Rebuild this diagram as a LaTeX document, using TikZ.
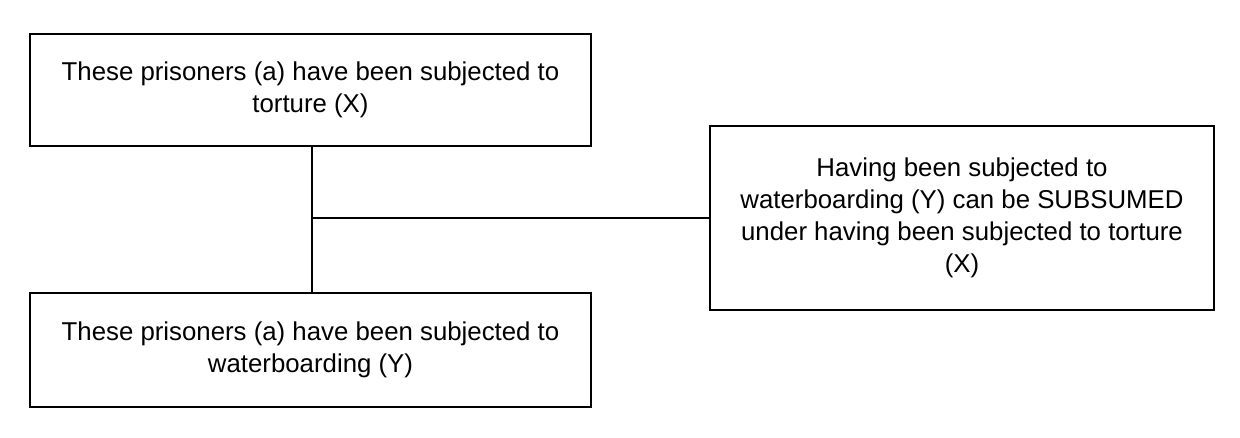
\documentclass[tikz,border=0pt]{standalone}
\usepackage{fontspec}
\setmainfont{Liberation Sans}
\usetikzlibrary{positioning,calc}

\begin{document}
\begin{tikzpicture}[
        x=1pt, y=1pt,
        claim/.style={draw, line width=0.6pt, align=center, inner sep=0pt,
                      font=\fontsize{12.9}{16}\selectfont},
        link/.style={draw, line width=0.6pt}
      ]
      \useasboundingbox (0,0) rectangle (620,219);

      \node (X) [claim, minimum width=280.5pt, minimum height=56pt] at (155.25,174) {These prisoners (a) have been subjected to\\torture (X)};
      \node (Y) [claim, minimum width=280.5pt, minimum height=57pt] at (155.25,44) {These prisoners (a) have been subjected to\\waterboarding (Y)};
      \node (R) [claim, minimum width=252pt, minimum height=92pt] at (481,110) {Having been subjected to\\waterboarding (Y) can be SUBSUMED\\under having been subjected to torture\\(X)};
      \coordinate (J) at (156,110);

      \path[link] (X.south -| J) -- (Y.north -| J);
      \path[link] (J) -- (R.west);

    \end{tikzpicture}
\end{document}
